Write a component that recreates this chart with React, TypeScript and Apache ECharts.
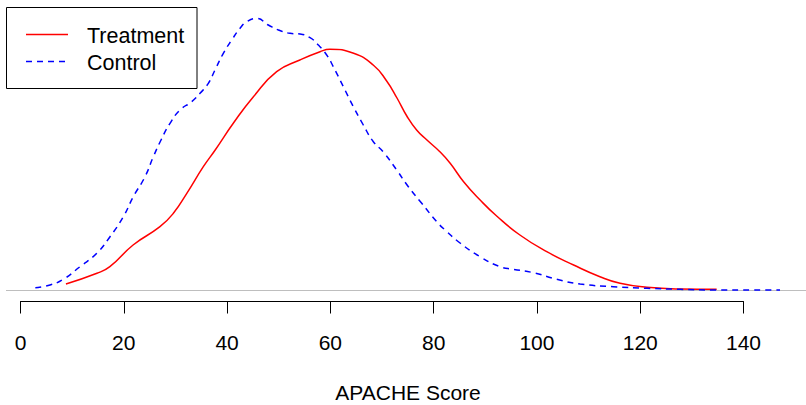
import React, { useEffect, useRef } from "react";
import * as echarts from "echarts";

// APACHE score (x) and estimated density (y)
const treatmentX = [8.8, 14.8, 17.3, 21.8, 27.0, 29.6, 32.2, 35.4, 37.7, 41.2, 45.1, 49.6, 54.1, 58.0, 59.9, 64.5, 68.3, 70.9, 72.9, 74.8, 76.7, 78.7, 81.2, 83.2, 85.8, 89.0, 92.2, 96.7, 101.9, 107.1, 112.2, 116.1, 121.3, 127.7, 134.8];
const treatmentY = [0.00065, 0.00172, 0.00238, 0.00455, 0.00638, 0.00772, 0.00972, 0.01238, 0.01405, 0.01672, 0.01938, 0.02188, 0.02305, 0.02388, 0.02412, 0.02372, 0.02255, 0.02095, 0.01925, 0.01745, 0.01605, 0.01505, 0.01388, 0.01272, 0.01088, 0.00905, 0.00745, 0.00555, 0.00388, 0.00255, 0.00138, 0.00072, 0.00032, 0.00015, 0.00012];

const controlX = [2.87, 5.71, 8.29, 11.52, 14.76, 17.33, 19.91, 21.84, 24.11, 25.72, 27.21, 28.95, 30.89, 33.15, 34.76, 36.37, 37.66, 39.27, 40.9, 42.51, 43.8, 45.74, 47.99, 49.92, 52.19, 54.12, 56.06, 57.67, 59.29, 60.57, 62.51, 64.45, 66.38, 68.32, 70.26, 72.85, 75.1, 77.69, 80.6, 82.2, 85.11, 88.98, 92.85, 95.43, 99.3, 103.83, 108.35, 114.79, 121.26, 127.71, 134.16, 147.07];
const controlY = [0.00028, 0.00055, 0.00112, 0.00238, 0.00372, 0.00538, 0.00738, 0.00938, 0.01138, 0.01338, 0.01505, 0.01672, 0.01805, 0.01888, 0.01972, 0.02072, 0.02205, 0.02372, 0.02505, 0.02622, 0.02688, 0.0272, 0.02655, 0.02605, 0.02572, 0.02565, 0.02528, 0.02455, 0.02355, 0.02238, 0.02038, 0.01838, 0.01655, 0.01488, 0.01385, 0.01205, 0.01038, 0.00872, 0.00688, 0.00605, 0.00475, 0.00338, 0.00238, 0.00212, 0.00178, 0.00112, 0.00065, 0.00038, 0.00022, 0.00012, 0.00005, 0.00005];

const seriesNames = ["Treatment", "Control"];
const xTickMin = 0;
const xTickMax = 140;
const xTickStep = 20;
const xTitle = "APACHE Score";

const FONT = "'Liberation Sans', Arial, Helvetica, sans-serif";

export default function App() {
  const ref = useRef<HTMLDivElement>(null);
  useEffect(() => {
    if (!ref.current) return;
    const chart = echarts.init(ref.current, undefined, { renderer: "svg" });
    const tData = treatmentX.map((x, i) => [x, treatmentY[i]]);
    const cData = controlX.map((x, i) => [x, controlY[i]]);
    chart.setOption({
      animation: false,
      backgroundColor: "#ffffff",
      textStyle: { fontFamily: FONT },
      grid: [
        { left: 6, right: 0, top: 0, height: 290.5, containLabel: false },
        { left: 20.5, width: 723, top: 290, height: 11.5, containLabel: false },
      ],
      xAxis: [
        { type: "value", gridIndex: 0, min: -2.81, max: 152.1, show: false },
        {
          type: "value",
          gridIndex: 1,
          min: xTickMin,
          max: xTickMax,
          interval: xTickStep,
          position: "bottom",
          axisLine: { show: true, onZero: false, lineStyle: { color: "#000", width: 1 } },
          axisTick: { show: true, length: 12, inside: false, lineStyle: { color: "#000", width: 1 } },
          axisLabel: { show: true, color: "#000", fontSize: 21, margin: 30, fontFamily: FONT, showMinLabel: true, showMaxLabel: true },
          splitLine: { show: false },
        },
      ],
      yAxis: [
        { type: "value", gridIndex: 0, min: 0, max: 0.02905, show: false },
        { type: "value", gridIndex: 1, min: 0, max: 1, show: false },
      ],
      series: [
        {
          name: seriesNames[0],
          type: "line",
          xAxisIndex: 0,
          yAxisIndex: 0,
          data: tData,
          showSymbol: false,
          smooth: 0.5,
          clip: false,
          lineStyle: { color: "#ff0000", width: 1.5 },
          z: 3,
        },
        {
          name: seriesNames[1],
          type: "line",
          xAxisIndex: 0,
          yAxisIndex: 0,
          data: cData,
          showSymbol: false,
          smooth: 0.5,
          clip: false,
          lineStyle: { color: "#0000ff", width: 1.5, type: [6, 5] },
          z: 4,
          markLine: {
            silent: true,
            symbol: "none",
            label: { show: false },
            lineStyle: { color: "#bebebe", type: "solid", width: 1 },
            data: [{ yAxis: 0 }],
            z: 1,
          },
        },
      ],
      graphic: [
        {
          type: "rect",
          shape: { x: 6.5, y: 7.5, width: 190.5, height: 81 },
          style: { fill: "#fff", stroke: "#000", lineWidth: 1 },
          z: 10,
        },
        {
          type: "line",
          shape: { x1: 26, y1: 34.5, x2: 68, y2: 34.5 },
          style: { stroke: "#ff0000", lineWidth: 1.5 },
          z: 11,
        },
        {
          type: "line",
          shape: { x1: 26, y1: 61.5, x2: 68, y2: 61.5 },
          style: { stroke: "#0000ff", lineWidth: 1.5, lineDash: [6, 5] },
          z: 11,
        },
        {
          type: "text",
          x: 87,
          y: 35.9,
          style: { text: seriesNames[0], fill: "#000", font: `21.5px ${FONT}`, verticalAlign: "middle", align: "left" },
          z: 11,
        },
        {
          type: "text",
          x: 87,
          y: 63.3,
          style: { text: seriesNames[1], fill: "#000", font: `21.5px ${FONT}`, verticalAlign: "middle", align: "left" },
          z: 11,
        },
        {
          type: "text",
          x: 408,
          y: 392.8,
          style: { text: xTitle, fill: "#000", font: `21px ${FONT}`, verticalAlign: "middle", align: "center" },
          z: 11,
        },
      ],
    });
    return () => chart.dispose();
  }, []);
  return <div ref={ref} style={{ position: "fixed", left: 0, top: 0, width: 806, height: 405 }} />;
}
